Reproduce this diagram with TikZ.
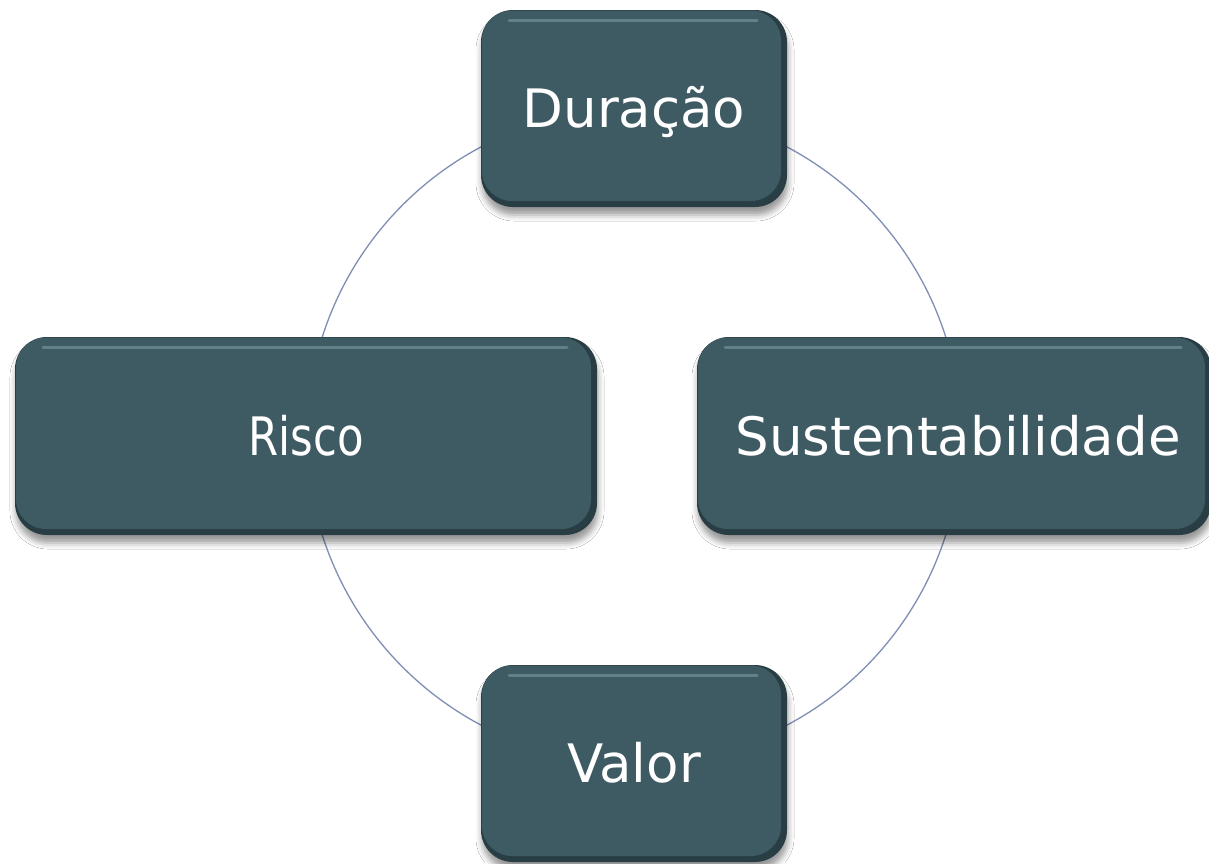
\documentclass[tikz,border=0pt]{standalone}
\usepackage{fontspec}
\setmainfont{DejaVu Sans}
\usetikzlibrary{shadows.blur}
\definecolor{cardfill}{RGB}{62,90,99}
\definecolor{cardrim}{RGB}{40,62,68}
\definecolor{cardlight}{RGB}{98,128,136}
\definecolor{ringcol}{RGB}{128,142,180}
\tikzset{
  card/.style={rectangle, rounded corners=32pt, fill=cardrim, text=white,
    font=\fontsize{53}{60}\selectfont, inner sep=0pt,
    text height=38.7pt, text depth=0pt, align=center,
    blur shadow={shadow xshift=1pt, shadow yshift=-8pt, shadow blur radius=6pt, shadow opacity=40},
    path picture={
      \fill[cardfill, rounded corners=30pt]
        ([shift={(1pt,-0.5pt)}]path picture bounding box.north west) rectangle
        ([shift={(-6pt,6pt)}]path picture bounding box.south east);
      \draw[cardlight, line width=3pt, line cap=round]
        ([shift={(28pt,-10pt)}]path picture bounding box.north west) --
        ([shift={(-30pt,-10pt)}]path picture bounding box.north east);
    }},
  ring/.style={draw=ringcol, line width=1.3pt}
}
\begin{document}
\begin{tikzpicture}[x=1pt,y=-1pt]
  \useasboundingbox (0,0) rectangle (1209,863);
  \fill[white] (0,0) rectangle (1209,863);
  \coordinate (ctr) at (634,436);
  \draw[ring] (ctr) circle (327);
  \node[card, minimum width=306pt, minimum height=197pt] (dur) at (634,108.5) {Duração};
  \node[card, minimum width=582pt, minimum height=198pt] (ris) at (306,436) {\scalebox{0.82}[1]{Risco}};
  \node[card, minimum width=514pt, minimum height=198pt] (sus) at (954,436) {\hspace*{8pt}Sustentabilidade};
  \node[card, minimum width=306pt, minimum height=197pt] (val) at (634,763.5) {Valor};
\end{tikzpicture}
\end{document}
